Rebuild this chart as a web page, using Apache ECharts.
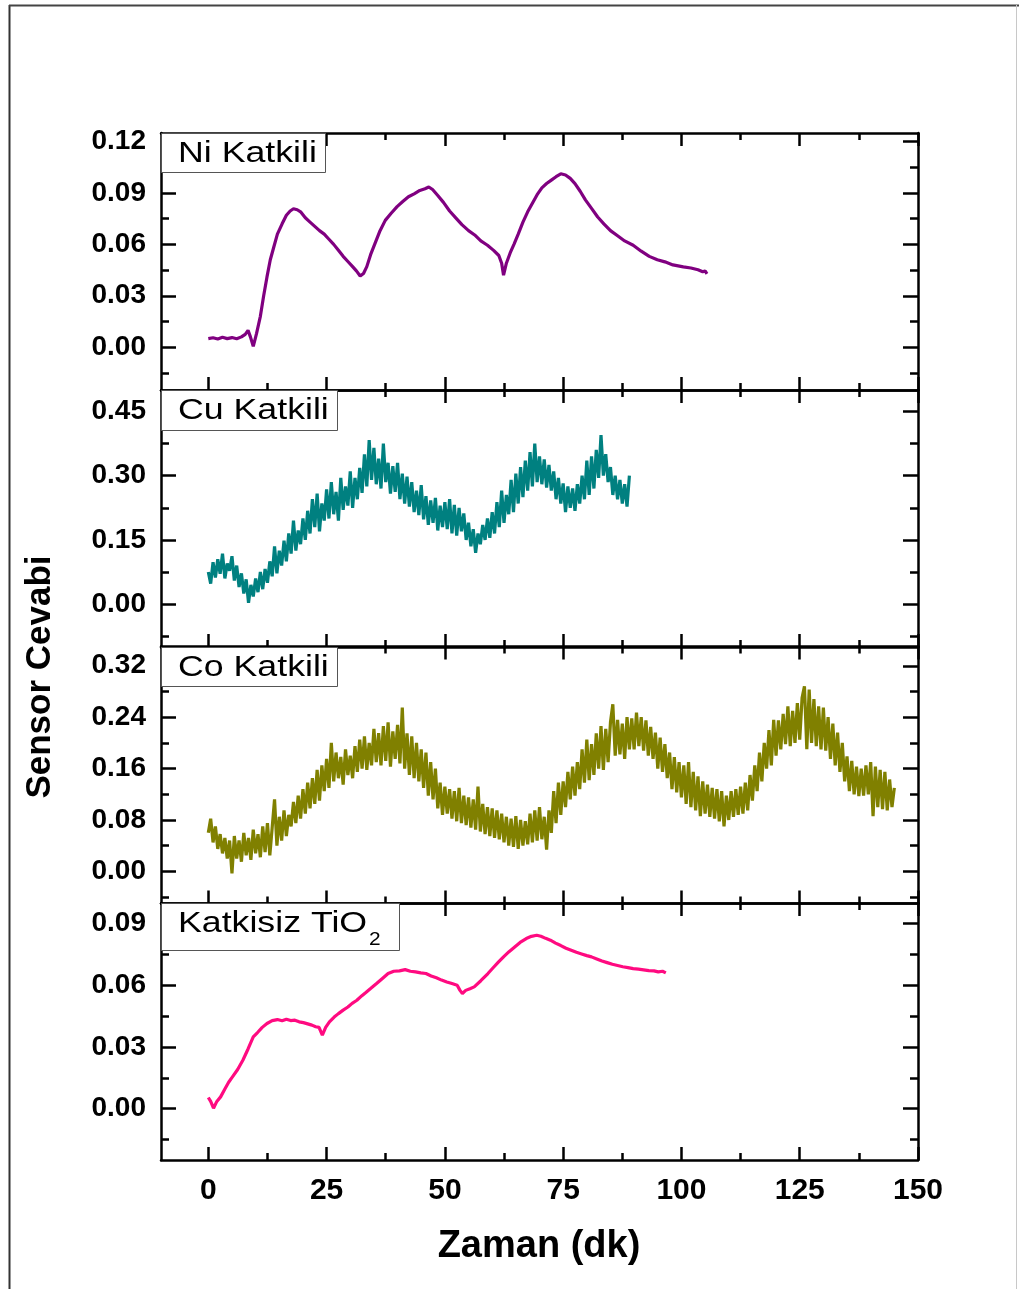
<!DOCTYPE html>
<html>
<head>
<meta charset="utf-8">
<script src="https://cdn.jsdelivr.net/npm/echarts@6/dist/echarts.min.js"></script>
<style>html,body{margin:0;padding:0;background:#fff}#c{width:1019px;height:1289px}</style>
</head>
<body>
<div id="c"></div>
<script>
// ---------------- DATA ----------------
const xTickValues = [0, 25, 50, 75, 100, 125, 150];
const xMinorValues = [12.5, 37.5, 62.5, 87.5, 112.5, 137.5];

const niYTicks = [0, 0.03, 0.06, 0.09, 0.12];
const niYMinor = [-0.015, 0.015, 0.045, 0.075, 0.105];
const cuYTicks = [0, 0.15, 0.30, 0.45];
const cuYMinor = [-0.075, 0.075, 0.225, 0.375];
const coYTicks = [0, 0.08, 0.16, 0.24, 0.32];
const coYMinor = [-0.04, 0.04, 0.12, 0.20, 0.28];
const tiYTicks = [0, 0.03, 0.06, 0.09];
const tiYMinor = [-0.015, 0.015, 0.045, 0.075];

const panelLabels = ['Ni Katkili', 'Cu Katkili', 'Co Katkili', 'Katkisiz TiO'];

// Ni doped (time in min, response)
const niTime = [0,1,2,3,4,5,6,7,7.8,8.4,8.9,9.5,10.2,11,11.7,12.4,13.1,13.8,14.6,15.6,16.5,17.3,18,18.8,19.5,20.5,21.5,22.5,23.5,24.5,25.5,26.5,27.5,28.5,29.5,30.5,31.3,32.1,32.8,33.5,34.3,35.3,36.3,37.4,38.6,39.9,41.1,42.3,43.5,44.7,45.8,46.6,47.4,48.5,49.7,51,52.3,53.6,55,56.3,57.6,59,60.3,61.4,62,62.4,63,63.8,64.6,65.5,66.5,67.5,68.5,69.5,70.5,71.5,72.5,73.5,74.5,75.5,76.5,77.5,78.6,79.7,81,82.3,83.6,85,86.5,88,89.8,91.5,93.2,94.9,96.5,98.2,100.4,102,103.5,104.5,105,105.4];
const niValue = [0.005,0.0055,0.0048,0.0058,0.005,0.0056,0.0049,0.006,0.0075,0.0098,0.006,0.0005,0.008,0.018,0.03,0.041,0.051,0.058,0.066,0.072,0.077,0.0795,0.0808,0.0802,0.079,0.0755,0.073,0.0705,0.068,0.066,0.063,0.06,0.0565,0.053,0.05,0.047,0.0445,0.0415,0.043,0.047,0.054,0.061,0.068,0.074,0.078,0.082,0.085,0.0878,0.0895,0.0915,0.0925,0.0935,0.092,0.0885,0.0845,0.0795,0.0755,0.0715,0.068,0.0655,0.062,0.0595,0.0565,0.0535,0.049,0.042,0.049,0.055,0.06,0.066,0.073,0.079,0.084,0.089,0.093,0.0955,0.0975,0.0995,0.1012,0.1005,0.0985,0.0955,0.091,0.086,0.081,0.076,0.072,0.068,0.065,0.062,0.0595,0.056,0.053,0.051,0.0498,0.048,0.0469,0.0462,0.0452,0.044,0.0445,0.0428];

// Cu doped (sampled every 0.5 min from 0)
const cuStep = 0.5;
const cuValue = [
0.075,0.048,0.098,0.062,0.105,0.071,0.118,0.06,0.095,0.078,
0.112,0.055,0.09,0.04,0.072,0.025,0.058,0.003,0.045,0.018,
0.06,0.028,0.075,0.035,0.082,0.05,0.1,0.065,0.135,0.072,
0.125,0.09,0.148,0.1,0.165,0.118,0.195,0.125,0.172,0.14,
0.2,0.15,0.218,0.165,0.245,0.18,0.258,0.17,0.235,0.195,
0.268,0.2,0.285,0.21,0.262,0.195,0.295,0.22,0.275,0.23,
0.31,0.225,0.295,0.245,0.318,0.26,0.35,0.275,0.383,0.29,
0.365,0.28,0.34,0.27,0.375,0.285,0.33,0.258,0.322,0.262,
0.33,0.245,0.305,0.235,0.298,0.228,0.285,0.215,0.265,0.208,
0.278,0.198,0.252,0.185,0.242,0.19,0.248,0.172,0.23,0.18,
0.238,0.175,0.245,0.165,0.232,0.16,0.225,0.17,0.212,0.15,
0.19,0.135,0.175,0.12,0.165,0.14,0.185,0.15,0.2,0.155,
0.215,0.165,0.238,0.18,0.265,0.19,0.255,0.21,0.29,0.215,
0.305,0.235,0.32,0.25,0.335,0.265,0.355,0.275,0.375,0.285,
0.345,0.28,0.338,0.272,0.325,0.265,0.31,0.245,0.295,0.235,
0.282,0.215,0.275,0.225,0.27,0.218,0.28,0.235,0.3,0.245,
0.335,0.255,0.345,0.27,0.36,0.295,0.395,0.3,0.35,0.285,
0.32,0.255,0.3,0.245,0.29,0.235,0.28,0.228,0.3];

// Co doped (sampled every 0.5 min from 0)
const coStep = 0.5;
const coValue = [
0.06,0.082,0.045,0.07,0.035,0.058,0.028,0.052,0.02,0.048,
-0.003,0.055,0.02,0.048,0.015,0.06,0.025,0.052,0.018,0.065,
0.028,0.058,0.022,0.07,0.03,0.075,0.025,0.068,0.112,0.04,
0.085,0.048,0.095,0.055,0.088,0.07,0.108,0.075,0.118,0.082,
0.128,0.09,0.138,0.098,0.145,0.105,0.158,0.11,0.165,0.125,
0.175,0.13,0.2,0.14,0.185,0.145,0.178,0.135,0.19,0.15,
0.18,0.145,0.195,0.155,0.205,0.16,0.21,0.158,0.2,0.165,
0.222,0.17,0.215,0.165,0.226,0.172,0.232,0.163,0.218,0.175,
0.228,0.168,0.255,0.16,0.215,0.15,0.21,0.145,0.2,0.14,
0.19,0.13,0.185,0.118,0.17,0.112,0.16,0.098,0.138,0.088,
0.132,0.09,0.128,0.082,0.125,0.078,0.13,0.075,0.118,0.072,
0.115,0.068,0.112,0.065,0.132,0.062,0.105,0.058,0.1,0.055,
0.098,0.052,0.095,0.05,0.09,0.045,0.085,0.04,0.082,0.038,
0.086,0.035,0.08,0.04,0.078,0.042,0.09,0.045,0.095,0.048,
0.1,0.05,0.085,0.034,0.095,0.06,0.125,0.075,0.138,0.088,
0.14,0.1,0.155,0.112,0.163,0.118,0.17,0.128,0.19,0.138,
0.205,0.142,0.198,0.15,0.215,0.16,0.226,0.158,0.222,0.17,
0.232,0.26,0.18,0.236,0.182,0.23,0.175,0.24,0.19,0.238,
0.19,0.247,0.195,0.24,0.188,0.235,0.18,0.225,0.175,0.216,
0.16,0.208,0.155,0.198,0.145,0.185,0.128,0.178,0.123,0.17,
0.115,0.165,0.105,0.17,0.1,0.155,0.095,0.148,0.086,0.14,
0.09,0.135,0.085,0.13,0.082,0.128,0.078,0.125,0.07,0.118,
0.08,0.125,0.085,0.128,0.088,0.132,0.09,0.138,0.095,0.15,
0.11,0.165,0.125,0.185,0.14,0.2,0.16,0.22,0.165,0.236,
0.18,0.235,0.19,0.245,0.198,0.257,0.195,0.25,0.2,0.262,
0.205,0.27,0.288,0.19,0.283,0.2,0.268,0.195,0.257,0.19,
0.255,0.188,0.24,0.175,0.23,0.165,0.216,0.155,0.2,0.14,
0.179,0.125,0.172,0.12,0.163,0.117,0.16,0.118,0.165,0.12,
0.17,0.086,0.163,0.1,0.158,0.097,0.155,0.095,0.143,0.1,
0.13];

// Undoped TiO2
const tiTime = [0,0.5,1.1,1.8,2.6,3.5,4.3,5.1,6.2,7.3,8.4,9.5,10.4,11.4,12.4,13.5,14.6,15.6,16.5,17.4,18.3,19.2,20.1,21,21.9,22.7,23.4,24.1,24.8,25.6,26.6,27.5,28.5,29.5,30.4,31.4,32.4,33.3,34.3,35.5,36.8,38,39.2,40.4,41.6,42.7,43.8,44.9,46,47.1,48.2,49.3,50.4,51.5,52.6,53.2,53.7,54.4,55.3,56.2,57.6,59.1,60.2,61.3,62.4,63.5,64.7,65.9,67.2,68.3,69.4,70.3,71.3,72.3,73.4,74.5,75.6,76.7,77.8,78.9,80,81,82.1,83.2,84.3,85.4,86.5,87.6,88.7,89.8,90.9,92,93.1,94.2,95.1,96,96.7];
const tiValue = [0.0054,0.0035,0.0002,0.0035,0.0057,0.0095,0.0128,0.0154,0.019,0.0235,0.029,0.0349,0.037,0.0395,0.0414,0.0428,0.0433,0.0427,0.0435,0.0428,0.043,0.0422,0.0418,0.0412,0.0406,0.0398,0.0395,0.0357,0.0395,0.0422,0.0445,0.0462,0.0479,0.0494,0.0512,0.0527,0.0548,0.0565,0.0584,0.0607,0.0633,0.0657,0.0668,0.067,0.0676,0.0668,0.0665,0.066,0.0657,0.0645,0.0636,0.0625,0.0616,0.0608,0.06,0.0575,0.056,0.0575,0.0583,0.0592,0.0622,0.0657,0.0685,0.0712,0.0738,0.0762,0.0785,0.0808,0.0827,0.0838,0.0843,0.0838,0.0828,0.0819,0.0805,0.0793,0.078,0.077,0.076,0.0752,0.0744,0.0738,0.0728,0.0718,0.071,0.0702,0.0696,0.069,0.0686,0.0681,0.0678,0.0675,0.0671,0.067,0.0665,0.0668,0.066];

// ---------------- BUILD ----------------
const FONT = '"Liberation Sans", Arial, Helvetica, sans-serif';
const pairs = (t, v) => v.map((y, i) => [t[i], y]);
const stepPairs = (step, v) => v.map((y, i) => [i * step, y]);

const panels = [
  {min: -0.025, max: 0.125, ticks: niYTicks, minor: niYMinor, data: pairs(niTime, niValue), color: '#800080', lw: 3.2},
  {min: -0.1, max: 0.5, ticks: cuYTicks, minor: cuYMinor, data: stepPairs(cuStep, cuValue), color: '#008080', lw: 3.2},
  {min: -0.05, max: 0.35, ticks: coYTicks, minor: coYMinor, data: stepPairs(coStep, coValue), color: '#808000', lw: 3.2},
  {min: -0.025, max: 0.1, ticks: tiYTicks, minor: tiYMinor, data: pairs(tiTime, tiValue), color: '#FF0A80', lw: 3.2}
];
const tops = [133, 390, 646.5, 903];
const H = 257;

const grids = [], xAxes = [], yAxes = [], series = [];
const lineSt = {color: '#000', width: 2.5};
panels.forEach((p, g) => {
  grids.push({left: 161, right: 101, top: tops[g], height: H});
  const isBottom = g === 3;
  const xb = {type: 'value', gridIndex: g, min: -10, max: 150, splitLine: {show: false}, silent: true};
  const mk = (pos, major, showLabel) => Object.assign({}, xb, {
    position: pos,
    axisLine: {show: major, onZero: false, lineStyle: lineSt},
    axisTick: {show: true, inside: true, length: major ? 13 : 7, lineStyle: lineSt, customValues: major ? xTickValues : xMinorValues},
    axisLabel: showLabel ? {show: true, customValues: xTickValues, fontFamily: FONT, fontWeight: 'bold', fontSize: 30, color: '#000', margin: 16} : {show: false}
  });
  xAxes.push(mk('bottom', true, isBottom));
  xAxes.push(mk('bottom', false, false));
  xAxes.push(mk('top', true, false));
  xAxes.push(mk('top', false, false));

  const yb = {type: 'value', gridIndex: g, min: p.min, max: p.max, splitLine: {show: false}, silent: true};
  const mky = (pos, major, showLabel) => Object.assign({}, yb, {
    position: pos,
    axisLine: {show: major, onZero: false, lineStyle: lineSt},
    axisTick: {show: true, inside: true, length: major ? 15 : 8, lineStyle: lineSt, customValues: major ? p.ticks : p.minor},
    axisLabel: showLabel ? {show: true, customValues: p.ticks, fontFamily: FONT, fontWeight: 'bold', fontSize: 28, color: '#000', margin: 15,
      formatter: v => Number(v).toFixed(2)} : {show: false}
  });
  yAxes.push(mky('left', true, true));
  yAxes.push(mky('left', false, false));
  yAxes.push(mky('right', true, false));
  yAxes.push(mky('right', false, false));

  series.push({
    type: 'line', xAxisIndex: g * 4, yAxisIndex: g * 4, data: p.data,
    showSymbol: false, symbol: 'none', smooth: false,
    lineStyle: {color: p.color, width: p.lw}, itemStyle: {color: p.color},
    z: 3, animation: false
  });
});

// panel label boxes
const boxes = [
  {x: 161, y: 133, w: 164, h: 39},
  {x: 161, y: 390, w: 176, h: 40},
  {x: 161, y: 647, w: 176, h: 39},
  {x: 161, y: 903, w: 238, h: 47}
];
const graphics = [];
boxes.forEach((b, i) => {
  graphics.push({type: 'rect', z: 100, shape: {x: b.x + 0.5, y: b.y + 0.5, width: b.w, height: b.h},
    style: {fill: '#fff', stroke: '#555', lineWidth: 1}});
  graphics.push({type: 'text', z: 101, x: 178, y: b.y + 21, scaleX: 1.19,
    style: {text: panelLabels[i], fontFamily: FONT, fontSize: 30, fill: '#000', textVerticalAlign: 'middle', textAlign: 'left'}});
});
graphics.push({type: 'text', z: 101, x: 369, y: 940, scaleX: 1.1,
  style: {text: '2', fontFamily: FONT, fontSize: 19, fill: '#000', textVerticalAlign: 'middle', textAlign: 'left'}});

// axis titles
graphics.push({type: 'text', z: 101, x: 539, y: 1247,
  style: {text: 'Zaman (dk)', fontFamily: FONT, fontSize: 38, fontWeight: 'bold', fill: '#000', textAlign: 'center', textVerticalAlign: 'middle'}});
graphics.push({type: 'text', z: 101, x: 40, y: 677, rotation: Math.PI / 2,
  style: {text: 'Sensor Cevabi', fontFamily: FONT, fontSize: 35, fontWeight: 'bold', fill: '#000', textAlign: 'center', textVerticalAlign: 'middle'}});

// outer frame
graphics.push({type: 'line', z: 100, shape: {x1: 9.5, y1: 5, x2: 9.5, y2: 1289}, style: {stroke: '#333', lineWidth: 2}});
graphics.push({type: 'line', z: 100, shape: {x1: 9, y1: 5.5, x2: 1019, y2: 5.5}, style: {stroke: '#444', lineWidth: 2}});
graphics.push({type: 'line', z: 100, shape: {x1: 1016.5, y1: 5, x2: 1016.5, y2: 1289}, style: {stroke: '#c8c8c8', lineWidth: 1}});

const chart = echarts.init(document.getElementById('c'), null, {renderer: 'canvas'});
chart.setOption({
  animation: false,
  backgroundColor: '#fff',
  grid: grids,
  xAxis: xAxes,
  yAxis: yAxes,
  series: series,
  graphic: graphics
});
</script>
</body>
</html>
